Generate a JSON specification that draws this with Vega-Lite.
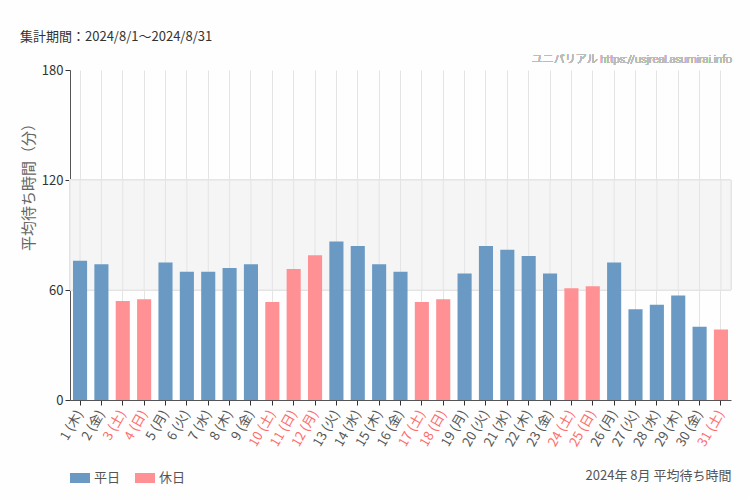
{
  "$schema": "https://vega.github.io/schema/vega-lite/v6.json",
  "width": 661,
  "height": 330,
  "autosize": {"type": "none"},
  "padding": {"left": 70, "top": 70, "right": 19, "bottom": 100},
  "background": "#fdfefd",
  "config": {
    "font": "Noto Sans CJK JP",
    "view": {"stroke": null},
    "axis": {"labelFont": "Noto Sans CJK JP", "titleFont": "Noto Sans CJK JP"}
  },
  "title": {
    "text": "集計期間：2024/8/1～2024/8/31",
    "anchor": "start",
    "frame": "group",
    "dx": -50,
    "offset": 10,
    "fontSize": 13,
    "fontWeight": "normal",
    "color": "#333333"
  },
  "data": {
    "values": [
      {"day": "1 (木)", "v": 76, "type": "平日"},
      {"day": "2 (金)", "v": 74, "type": "平日"},
      {"day": "3 (土)", "v": 54, "type": "休日"},
      {"day": "4 (日)", "v": 55, "type": "休日"},
      {"day": "5 (月)", "v": 75, "type": "平日"},
      {"day": "6 (火)", "v": 70, "type": "平日"},
      {"day": "7 (水)", "v": 70, "type": "平日"},
      {"day": "8 (木)", "v": 72, "type": "平日"},
      {"day": "9 (金)", "v": 74, "type": "平日"},
      {"day": "10 (土)", "v": 53.5, "type": "休日"},
      {"day": "11 (日)", "v": 71.5, "type": "休日"},
      {"day": "12 (月)", "v": 79, "type": "休日"},
      {"day": "13 (火)", "v": 86.5, "type": "平日"},
      {"day": "14 (水)", "v": 84, "type": "平日"},
      {"day": "15 (木)", "v": 74, "type": "平日"},
      {"day": "16 (金)", "v": 70, "type": "平日"},
      {"day": "17 (土)", "v": 53.5, "type": "休日"},
      {"day": "18 (日)", "v": 55, "type": "休日"},
      {"day": "19 (月)", "v": 69, "type": "平日"},
      {"day": "20 (火)", "v": 84, "type": "平日"},
      {"day": "21 (水)", "v": 82, "type": "平日"},
      {"day": "22 (木)", "v": 78.5, "type": "平日"},
      {"day": "23 (金)", "v": 69, "type": "平日"},
      {"day": "24 (土)", "v": 61, "type": "休日"},
      {"day": "25 (日)", "v": 62, "type": "休日"},
      {"day": "26 (月)", "v": 75, "type": "平日"},
      {"day": "27 (火)", "v": 49.5, "type": "平日"},
      {"day": "28 (水)", "v": 52, "type": "平日"},
      {"day": "29 (木)", "v": 57, "type": "平日"},
      {"day": "30 (金)", "v": 40, "type": "平日"},
      {"day": "31 (土)", "v": 38.5, "type": "休日"}
    ]
  },
  "layer": [
    {
      "mark": {"type": "rect", "fill": "#f4f5f4", "stroke": "#e4e4e4", "strokeWidth": 1},
      "encoding": {
        "y": {"datum": 60, "type": "quantitative"},
        "y2": {"datum": 120}
      }
    },
    {
      "mark": {"type": "rule", "color": "#e4e4e4", "strokeWidth": 1},
      "encoding": {
        "x": {"field": "day", "type": "nominal", "sort": null},
        "y": {"datum": 60, "type": "quantitative"},
        "y2": {"datum": 120}
      }
    },
    {
      "mark": {"type": "bar"},
      "encoding": {
        "x": {
          "field": "day",
          "type": "nominal",
          "sort": null,
          "scale": {"paddingInner": 0.34, "paddingOuter": 0.14},
          "axis": {
            "title": "2024年 8月 平均待ち時間",
            "titleAnchor": "end",
            "titleFontSize": 13,
            "titleFontWeight": "normal",
            "titleColor": "#555555",
            "titlePadding": 21,
            "labelAngle": -60,
            "labelFontSize": 13,
            "labelColor": {
              "condition": {"test": "test(/土|日/, datum.value) || datum.value == '12 (月)'", "value": "#ff6b6b"},
              "value": "#555555"
            },
            "labelPadding": 6,
            "grid": true,
            "gridColor": "#e4e4e4",
            "domainColor": "#555555",
            "tickColor": "#333333",
            "tickSize": 5
          }
        },
        "y": {
          "field": "v",
          "type": "quantitative",
          "scale": {"domain": [0, 180], "nice": false},
          "axis": {
            "values": [0, 60, 120, 180],
            "title": "平均待ち時間（分）",
            "titleFontSize": 15,
            "titleFontWeight": "normal",
            "titleColor": "#666666",
            "titleX": -42,
            "titleY": 113,
            "titleAlign": "center",
            "titleBaseline": "middle",
            "titleAngle": -90,
            "labelFontSize": 13,
            "labelColor": "#333333",
            "gridColor": "#e4e4e4",
            "domainColor": "#555555",
            "tickColor": "#333333",
            "tickSize": 5
          }
        },
        "color": {
          "field": "type",
          "type": "nominal",
          "scale": {"domain": ["平日", "休日"], "range": ["#6a9ac4", "#ff9194"]},
          "legend": {
            "title": null,
            "orient": "none",
            "direction": "horizontal",
            "legendX": 0,
            "legendY": 398,
            "symbolType": "M-1,-0.5H1V0.5H-1Z",
            "symbolSize": 400,
            "symbolOpacity": 1,
            "symbolStrokeWidth": 0,
            "labelFontSize": 13,
            "labelColor": "#555555",
            "columnPadding": 14
          }
        }
      }
    },
    {
      "mark": {
        "type": "text",
        "text": "ユニバリアル  https://usjreal.asumirai.info",
        "align": "right",
        "baseline": "middle",
        "dx": 11,
        "dy": -10,
        "fontSize": 11,
        "fontWeight": 300,
        "font": "Roboto, Noto Sans CJK JP",
        "color": "#bbbbbb"
      },
      "encoding": {
        "x": {"datum": "31 (土)", "type": "nominal"},
        "y": {"datum": 180, "type": "quantitative"}
      }
    }
  ]
}
